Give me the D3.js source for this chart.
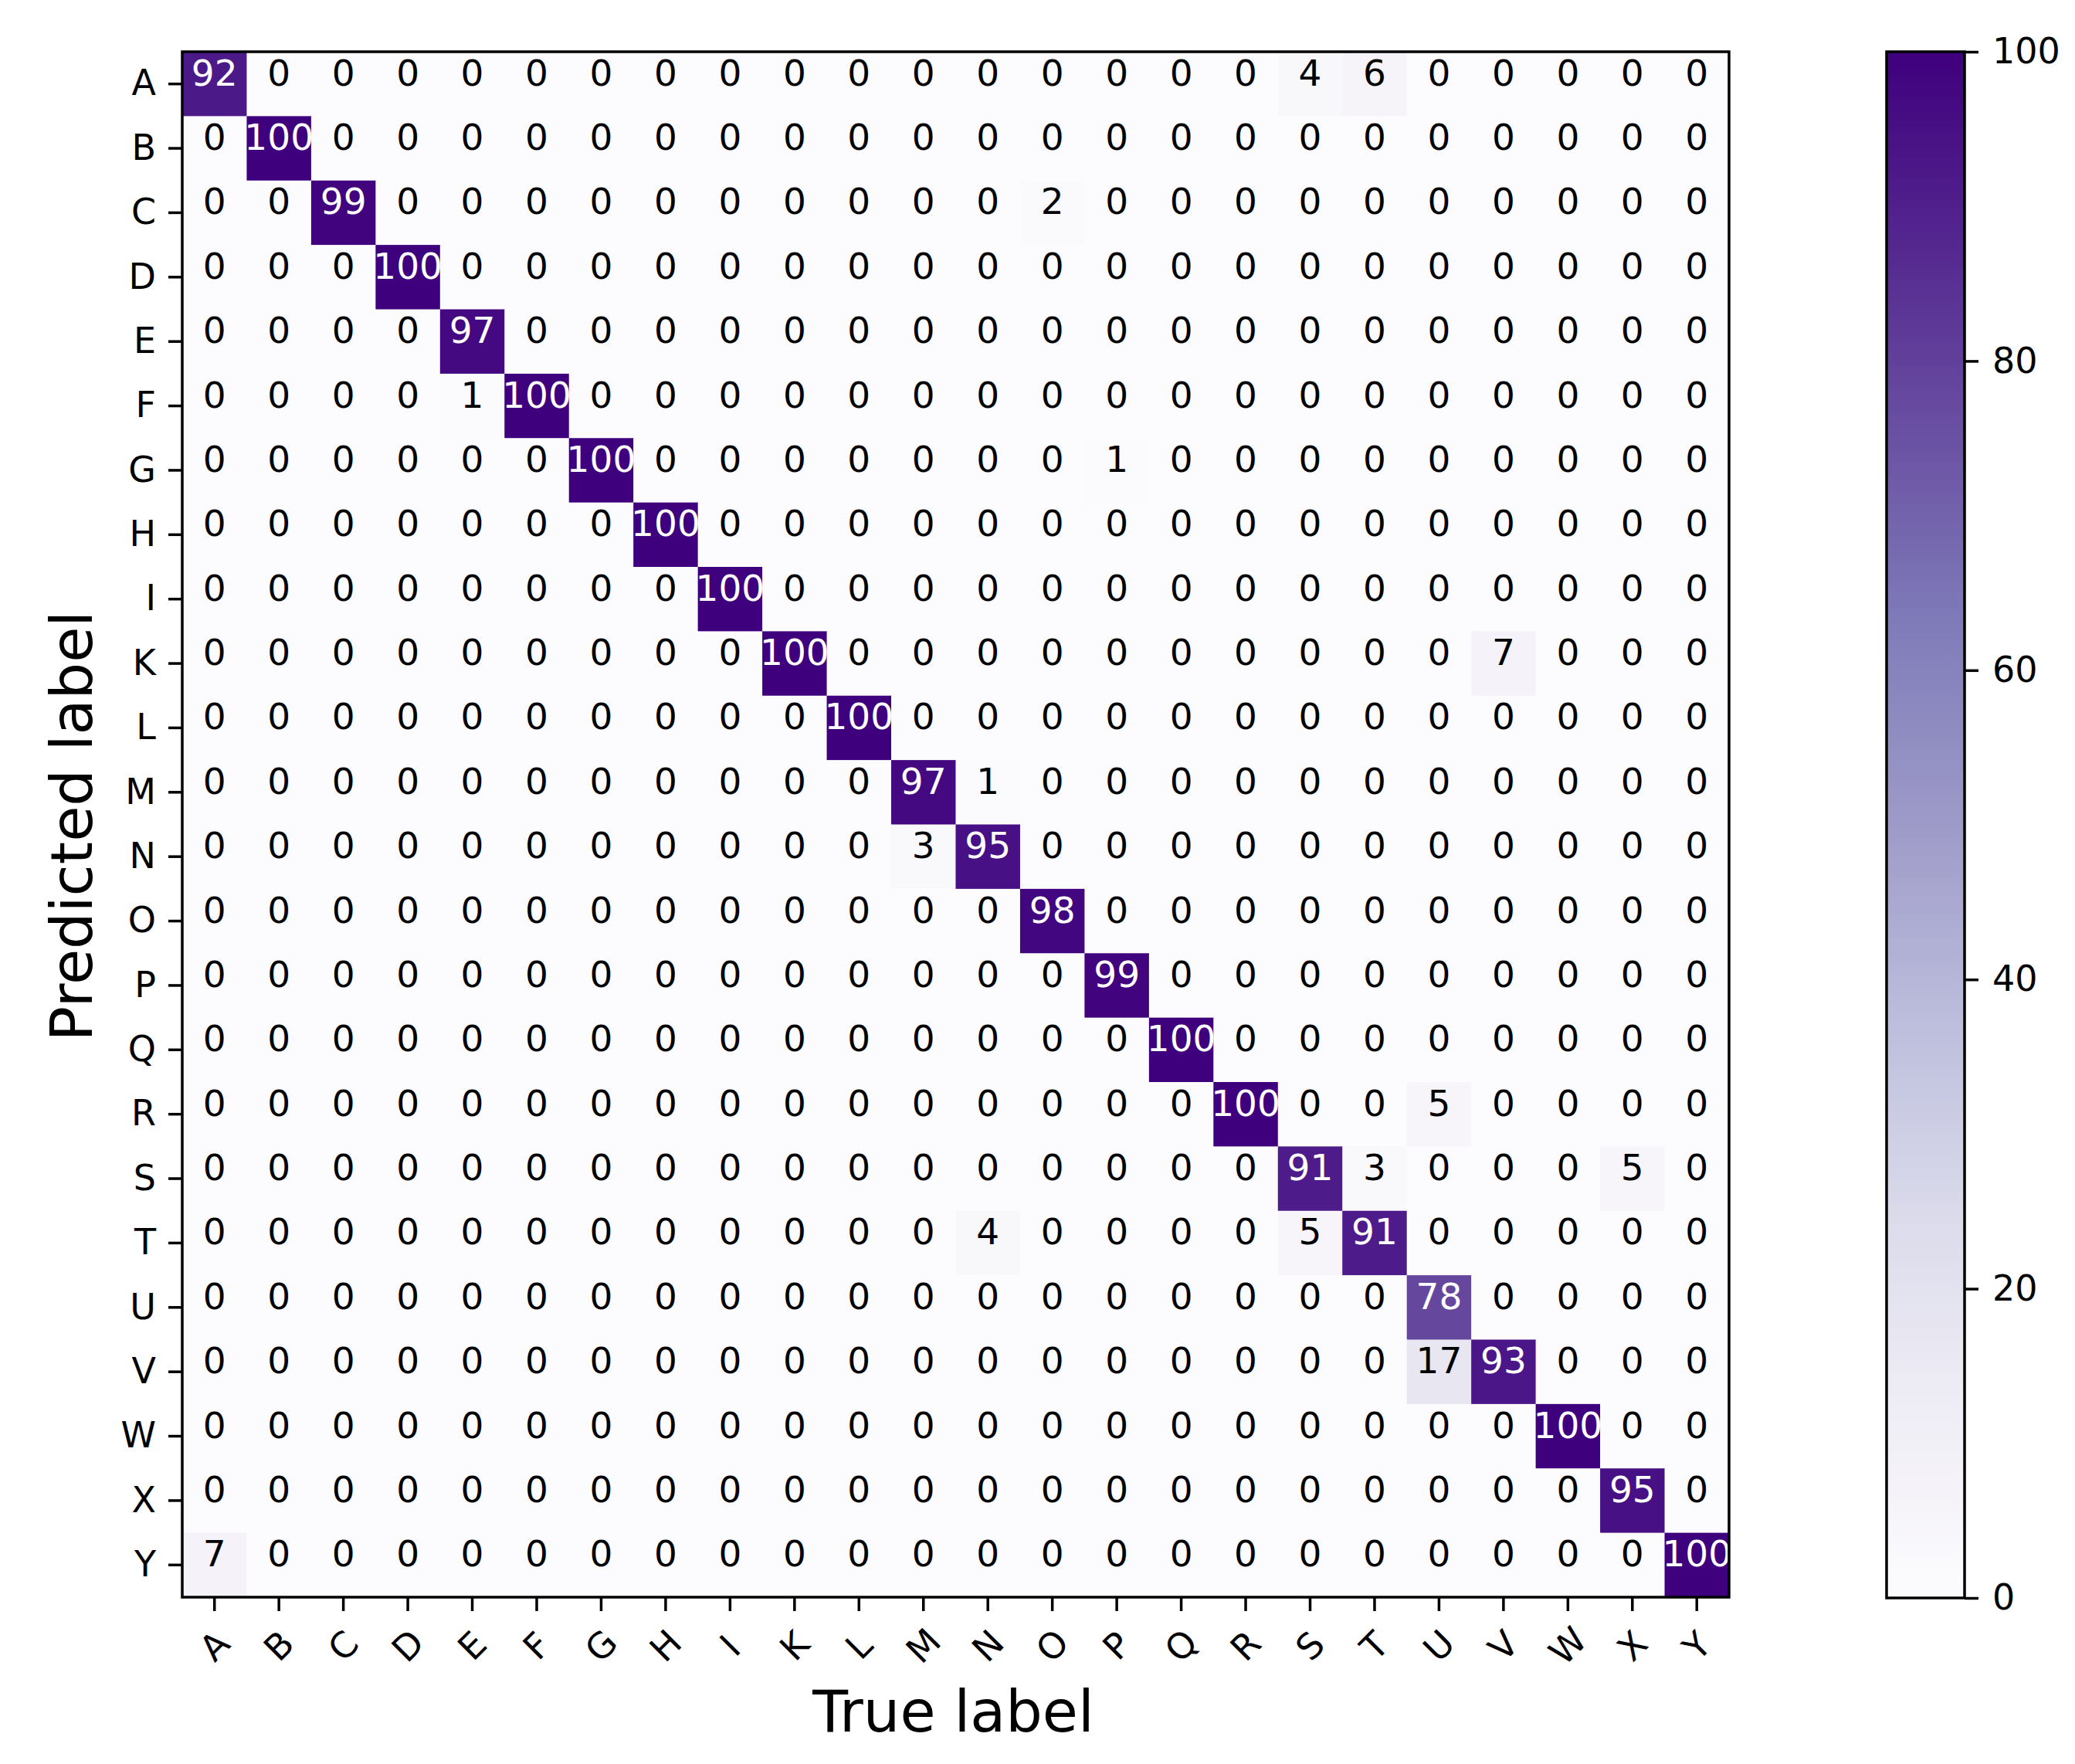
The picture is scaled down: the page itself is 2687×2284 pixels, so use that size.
<!DOCTYPE html>
<html><head><meta charset="utf-8">
<script src="https://cdn.jsdelivr.net/npm/d3@7"></script>
<style>body{margin:0;background:#fff}</style>
</head><body>
<svg id="chart" width="2687" height="2284" xmlns="http://www.w3.org/2000/svg"></svg>
<script>
// ---- data ----
const trueLabels = ["A","B","C","D","E","F","G","H","I","K","L","M","N","O","P","Q","R","S","T","U","V","W","X","Y"];
const predLabels = ["A","B","C","D","E","F","G","H","I","K","L","M","N","O","P","Q","R","S","T","U","V","W","X","Y"];
// rows = predicted label, columns = true label
const matrix = [
  [92,0,0,0,0,0,0,0,0,0,0,0,0,0,0,0,0,4,6,0,0,0,0,0],
  [0,100,0,0,0,0,0,0,0,0,0,0,0,0,0,0,0,0,0,0,0,0,0,0],
  [0,0,99,0,0,0,0,0,0,0,0,0,0,2,0,0,0,0,0,0,0,0,0,0],
  [0,0,0,100,0,0,0,0,0,0,0,0,0,0,0,0,0,0,0,0,0,0,0,0],
  [0,0,0,0,97,0,0,0,0,0,0,0,0,0,0,0,0,0,0,0,0,0,0,0],
  [0,0,0,0,1,100,0,0,0,0,0,0,0,0,0,0,0,0,0,0,0,0,0,0],
  [0,0,0,0,0,0,100,0,0,0,0,0,0,0,1,0,0,0,0,0,0,0,0,0],
  [0,0,0,0,0,0,0,100,0,0,0,0,0,0,0,0,0,0,0,0,0,0,0,0],
  [0,0,0,0,0,0,0,0,100,0,0,0,0,0,0,0,0,0,0,0,0,0,0,0],
  [0,0,0,0,0,0,0,0,0,100,0,0,0,0,0,0,0,0,0,0,7,0,0,0],
  [0,0,0,0,0,0,0,0,0,0,100,0,0,0,0,0,0,0,0,0,0,0,0,0],
  [0,0,0,0,0,0,0,0,0,0,0,97,1,0,0,0,0,0,0,0,0,0,0,0],
  [0,0,0,0,0,0,0,0,0,0,0,3,95,0,0,0,0,0,0,0,0,0,0,0],
  [0,0,0,0,0,0,0,0,0,0,0,0,0,98,0,0,0,0,0,0,0,0,0,0],
  [0,0,0,0,0,0,0,0,0,0,0,0,0,0,99,0,0,0,0,0,0,0,0,0],
  [0,0,0,0,0,0,0,0,0,0,0,0,0,0,0,100,0,0,0,0,0,0,0,0],
  [0,0,0,0,0,0,0,0,0,0,0,0,0,0,0,0,100,0,0,5,0,0,0,0],
  [0,0,0,0,0,0,0,0,0,0,0,0,0,0,0,0,0,91,3,0,0,0,5,0],
  [0,0,0,0,0,0,0,0,0,0,0,0,4,0,0,0,0,5,91,0,0,0,0,0],
  [0,0,0,0,0,0,0,0,0,0,0,0,0,0,0,0,0,0,0,78,0,0,0,0],
  [0,0,0,0,0,0,0,0,0,0,0,0,0,0,0,0,0,0,0,17,93,0,0,0],
  [0,0,0,0,0,0,0,0,0,0,0,0,0,0,0,0,0,0,0,0,0,100,0,0],
  [0,0,0,0,0,0,0,0,0,0,0,0,0,0,0,0,0,0,0,0,0,0,95,0],
  [7,0,0,0,0,0,0,0,0,0,0,0,0,0,0,0,0,0,0,0,0,0,0,100]
];
const colorbarTicks = [0,20,40,60,80,100];
const xTitle = "True label";
const yTitle = "Predicted label";

// ---- styling ----
const purples = ["#fcfbfd","#efedf5","#dadaeb","#bcbddc","#9e9ac8","#807dba","#6a51a3","#54278f","#3f007d"];
const FONT = "'DejaVu Sans', sans-serif";
const plot = {left: 236, top: 67, right: 2239, bottom: 2068};
const cbar = {left: 2443, right: 2544, top: 67, bottom: 2069};

const svg = d3.select("#chart");
svg.append("rect").attr("width", 2687).attr("height", 2284).attr("fill", "#fff");

const x = d3.scaleBand().domain(trueLabels).range([plot.left, plot.right]);
const y = d3.scaleBand().domain(predLabels).range([plot.top, plot.bottom]);
const vmin = 0, vmax = 100;
const color = d3.scaleLinear()
  .domain(purples.map((_, i) => vmin + (vmax - vmin) * i / (purples.length - 1)))
  .range(purples)
  .interpolate(d3.interpolateRgb)
  .clamp(true);

const cells = [];
matrix.forEach((row, i) => row.forEach((v, j) => cells.push({pred: predLabels[i], tru: trueLabels[j], v})));

svg.append("g").selectAll("rect").data(cells).join("rect")
  .attr("x", d => x(d.tru))
  .attr("y", d => y(d.pred))
  .attr("width", x.bandwidth() + 0.6)
  .attr("height", y.bandwidth() + 0.6)
  .attr("fill", d => color(d.v));

svg.append("g").selectAll("text").data(cells).join("text")
  .attr("x", d => x(d.tru) + x.bandwidth() / 2)
  .attr("y", d => y(d.pred) + y.bandwidth() / 2 + 2)
  .attr("text-anchor", "middle")
  .attr("font-family", FONT)
  .attr("font-size", 47)
  .attr("fill", d => d.v > (vmax + vmin) / 2 ? "#ffffff" : "#000000")
  .text(d => d.v);

// frame
svg.append("rect")
  .attr("x", plot.left).attr("y", plot.top)
  .attr("width", plot.right - plot.left).attr("height", plot.bottom - plot.top)
  .attr("fill", "none").attr("stroke", "#000").attr("stroke-width", 3.5);

// axes
const xAxis = svg.append("g").attr("transform", `translate(0,${plot.bottom})`)
  .call(d3.axisBottom(x).tickSize(18).tickPadding(10));
xAxis.select(".domain").remove();
xAxis.selectAll(".tick line").attr("stroke", "#000").attr("stroke-width", 3.5);
xAxis.selectAll(".tick text")
  .attr("y", null).attr("dy", null)
  .attr("dominant-baseline", "central")
  .attr("text-anchor", "middle")
  .attr("transform", "translate(0,63) rotate(-45)")
  .attr("font-family", FONT).attr("font-size", 46).attr("fill", "#000");

const yAxis = svg.append("g").attr("transform", `translate(${plot.left},0)`)
  .call(d3.axisLeft(y).tickSize(18).tickPadding(16));
yAxis.select(".domain").remove();
yAxis.selectAll(".tick line").attr("stroke", "#000").attr("stroke-width", 3.5);
yAxis.selectAll(".tick text")
  .attr("font-family", FONT).attr("font-size", 46).attr("fill", "#000");

// titles
svg.append("text")
  .attr("x", (plot.left + plot.right) / 2 - 3).attr("y", 2242)
  .attr("text-anchor", "middle")
  .attr("font-family", FONT).attr("font-size", 75).attr("fill", "#000")
  .text(xTitle);
svg.append("text")
  .attr("transform", `translate(119,${(plot.top + plot.bottom) / 2 + 2}) rotate(-90)`)
  .attr("text-anchor", "middle")
  .attr("font-family", FONT).attr("font-size", 75).attr("fill", "#000")
  .text(yTitle);

// colorbar
const defs = svg.append("defs");
const grad = defs.append("linearGradient").attr("id", "cbgrad")
  .attr("x1", 0).attr("y1", 1).attr("x2", 0).attr("y2", 0);
grad.selectAll("stop").data(purples).join("stop")
  .attr("offset", (d, i) => i / (purples.length - 1))
  .attr("stop-color", d => d);
svg.append("rect")
  .attr("x", cbar.left).attr("y", cbar.top)
  .attr("width", cbar.right - cbar.left).attr("height", cbar.bottom - cbar.top)
  .attr("fill", "url(#cbgrad)")
  .attr("stroke", "#000").attr("stroke-width", 3.5);

const cScale = d3.scaleLinear().domain([vmin, vmax]).range([cbar.bottom, cbar.top]);
const cAxis = svg.append("g").attr("transform", `translate(${cbar.right},0)`)
  .call(d3.axisRight(cScale).tickValues(colorbarTicks).tickSize(18).tickPadding(18));
cAxis.select(".domain").remove();
cAxis.selectAll(".tick line").attr("stroke", "#000").attr("stroke-width", 3.5);
cAxis.selectAll(".tick text")
  .attr("font-family", FONT).attr("font-size", 46).attr("fill", "#000");
</script>
</body></html>
